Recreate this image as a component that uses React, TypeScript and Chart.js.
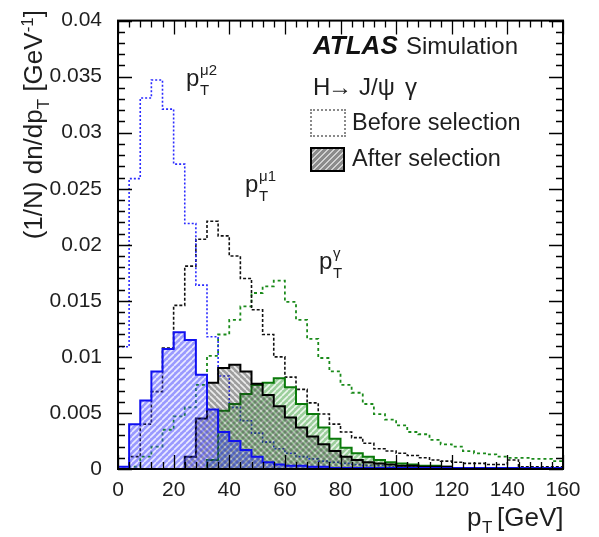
import React, { useEffect, useRef } from 'react';
import { Chart, registerables } from 'chart.js';
Chart.register(...registerables);

// Bin edges (GeV), 40 bins of 4 GeV
const binEdges = [0, 4, 8, 12, 16, 20, 24, 28, 32, 36, 40, 44, 48, 52, 56, 60, 64, 68, 72, 76, 80,
  84, 88, 92, 96, 100, 104, 108, 112, 116, 120, 124, 128, 132, 136, 140, 144, 148, 152, 156, 160];

// pT(mu2) before / after selection
const mu2Before = [0.0109, 0.0259, 0.0331, 0.0347, 0.0321, 0.0272, 0.0219, 0.0164, 0.0118, 0.0083,
  0.0055, 0.0043, 0.0032, 0.0024, 0.0018, 0.0014, 0.0011, 0.0009, 0.0007, 0.0006,
  0.0005, 0.0004, 0.0003, 0.0003, 0.0002, 0.0002, 0.0002, 0.0001, 0.0001, 0.0001,
  0.0001, 0.0001, 0.0001, 0.0001, 0.0001, 0.0001, 0.0001, 0.0001, 0.0001, 0.0001];
const mu2After = [0.0002, 0.0040, 0.0061, 0.0087, 0.0107, 0.0122, 0.0115, 0.0084, 0.0053, 0.0033,
  0.0025, 0.0017, 0.0011, 0.0006, 0.0004, 0.0003, 0.0003, 0.0002, 0.0002, 0.0001,
  0.0001, 0.0001, 0.0001, 0.0001, 0.0001, 0.0001, 0.0001, 0.0001, 0.0001, 0.0001,
  0.0001, 0.0001, 0.0001, 0.0001, 0.0001, 0.0001, 0.0001, 0.0001, 0.0001, 0.0001];

// pT(mu1) before / after selection
const mu1Before = [0, 0.0011, 0.0040, 0.0069, 0.0108, 0.0146, 0.0181, 0.0205, 0.0221, 0.0208,
  0.0190, 0.0170, 0.0142, 0.0120, 0.0100, 0.0082, 0.0071, 0.0059, 0.0049, 0.0040,
  0.0033, 0.0028, 0.0023, 0.0018, 0.0016, 0.0014, 0.0012, 0.0010, 0.0008, 0.0007,
  0.0006, 0.0005, 0.0005, 0.0004, 0.0004, 0.0008, 0.0002, 0.0002, 0.0002, 0.0002];
const mu1After = [0, 0, 0, 0, 0, 0, 0.0011, 0.0045, 0.0077, 0.0090,
  0.0093, 0.0087, 0.0076, 0.0066, 0.0056, 0.0046, 0.0037, 0.0029, 0.0022, 0.0016,
  0.0011, 0.0008, 0.0006, 0.0005, 0.0004, 0.0003, 0.0003, 0.0002, 0.0002, 0.0002,
  0.0001, 0.0001, 0.0001, 0.0001, 0.0001, 0.0001, 0.0001, 0.0001, 0.0001, 0.0001];

// pT(gamma) before / after selection
const gamBefore = [0, 0.0002, 0.0011, 0.0020, 0.0035, 0.0047, 0.0055, 0.0075, 0.0101, 0.0120,
  0.0133, 0.0145, 0.0157, 0.0163, 0.0168, 0.0149, 0.0133, 0.0116, 0.0099, 0.0087,
  0.0075, 0.0068, 0.0058, 0.0049, 0.0044, 0.0039, 0.0033, 0.0031, 0.0026, 0.0022,
  0.0020, 0.0016, 0.0014, 0.0013, 0.0011, 0.0010, 0.0010, 0.0009, 0.0009, 0.0007];
const gamAfter = [0, 0, 0, 0, 0, 0, 0, 0, 0.0008, 0.0052,
  0.0058, 0.0067, 0.0075, 0.0077, 0.0081, 0.0073, 0.0058, 0.0049, 0.0037, 0.0027,
  0.0019, 0.0014, 0.0011, 0.0008, 0.0006, 0.0005, 0.0004, 0.0003, 0.0003, 0.0002,
  0.0001, 0.0001, 0.0001, 0.0001, 0.0001, 0.0001, 0.0001, 0.0001, 0.0001, 0.0001];

const xTickLabels = [0, 20, 40, 60, 80, 100, 120, 140, 160];
const yTickLabels = ['0', '0.005', '0.01', '0.015', '0.02', '0.025', '0.03', '0.035', '0.04'];

const FONT = '"Liberation Sans", Arial, Helvetica, sans-serif';
const TXT = '#1e1e1e';

function stepPoints(vals: number[]) {
  return binEdges.map((e, i) => ({ x: e, y: vals[Math.min(i, vals.length - 1)] }));
}

function makeHatch(ctx: CanvasRenderingContext2D, color: string, dir: number, size = 6) {
  const c = document.createElement('canvas');
  c.width = size;
  c.height = size;
  const g = c.getContext('2d') as CanvasRenderingContext2D;
  g.fillStyle = color;
  g.fillRect(0, 0, size, size);
  g.globalCompositeOperation = 'destination-out';
  g.strokeStyle = 'rgba(0,0,0,0.8)';
  g.lineWidth = 1.6;
  g.beginPath();
  for (const o of [-size, 0, size]) {
    if (dir > 0) { g.moveTo(o, size); g.lineTo(o + size, 0); }
    else { g.moveTo(o, 0); g.lineTo(o + size, size); }
  }
  g.stroke();
  return ctx.createPattern(c, 'repeat') as CanvasPattern;
}

const frameTicks = {
  id: 'frameTicks',
  afterDatasetsDraw(chart: any) {
    const { ctx, chartArea } = chart;
    const { left, right, top, bottom } = chartArea;
    const xs = chart.scales.x;
    const ys = chart.scales.y;
    ctx.save();
    ctx.strokeStyle = '#000';
    ctx.lineWidth = 1.3;
    ctx.beginPath();
    for (let v = 0; v <= 160; v += 4) {
      const px = Math.round(xs.getPixelForValue(v)) + 0.5;
      const len = v % 20 === 0 ? 14 : 7;
      ctx.moveTo(px, bottom); ctx.lineTo(px, bottom - len);
      ctx.moveTo(px, top); ctx.lineTo(px, top + len);
    }
    for (let k = 0; k <= 40; k++) {
      const py = Math.round(ys.getPixelForValue(k * 0.001)) + 0.5;
      const len = k % 5 === 0 ? 14 : 7;
      ctx.moveTo(left, py); ctx.lineTo(left + len, py);
      ctx.moveTo(right, py); ctx.lineTo(right - len, py);
    }
    ctx.stroke();
    ctx.lineWidth = 2;
    ctx.strokeRect(left, top, right - left, bottom - top);
    ctx.restore();
  },
};

function T({ x, base, size, children, style }: any) {
  return (
    <div style={{
      position: 'absolute', left: x, top: base - 0.8465 * size, fontSize: size,
      lineHeight: `${size}px`, whiteSpace: 'nowrap', fontFamily: FONT, color: TXT, ...style,
    }}>{children}</div>
  );
}

function PLabel({ x, base, sup }: { x: number; base: number; sup: string }) {
  return (
    <>
      <T x={x} base={base} size={24}>p</T>
      <T x={x + 14} base={base - 11} size={15}>{sup}</T>
      <T x={x + 14} base={base + 9} size={15}>T</T>
    </>
  );
}

export default function App() {
  const ref = useRef<HTMLCanvasElement>(null);
  useEffect(() => {
    const canvas = ref.current as HTMLCanvasElement;
    const ctx = canvas.getContext('2d') as CanvasRenderingContext2D;
    const blueHatch = makeHatch(ctx, 'rgba(60,60,255,0.52)', 1);
    const grayHatch = makeHatch(ctx, 'rgba(40,40,40,0.45)', -1);
    const greenHatch = makeHatch(ctx, 'rgba(20,140,20,0.42)', 1);
    const base = { stepped: true, pointRadius: 0, tension: 0 };
    const chart = new Chart(canvas, {
      type: 'line',
      data: {
        datasets: [
          { ...base, label: 'mu2 after', data: stepPoints(mu2After), borderColor: '#1010f0', borderWidth: 2, fill: 'origin', backgroundColor: blueHatch },
          { ...base, label: 'mu1 after', data: stepPoints(mu1After), borderColor: '#000000', borderWidth: 2, fill: 'origin', backgroundColor: grayHatch },
          { ...base, label: 'gamma after', data: stepPoints(gamAfter), borderColor: '#0a7a0a', borderWidth: 2, fill: 'origin', backgroundColor: greenHatch },
          { ...base, label: 'mu2 before', data: stepPoints(mu2Before), borderColor: '#2a2aff', borderWidth: 1.6, borderDash: [2, 2], fill: false },
          { ...base, label: 'mu1 before', data: stepPoints(mu1Before), borderColor: '#111111', borderWidth: 1.6, borderDash: [3, 2], fill: false },
          { ...base, label: 'gamma before', data: stepPoints(gamBefore), borderColor: '#1a8a1a', borderWidth: 1.8, borderDash: [3, 3], fill: false },
        ] as any,
      },
      options: {
        animation: false,
        responsive: false,
        devicePixelRatio: 1,
        layout: { padding: { top: 12, right: 36, left: 0, bottom: 0 } },
        plugins: { legend: { display: false }, tooltip: { enabled: false } },
        scales: {
          x: {
            type: 'linear', min: 0, max: 160,
            grid: { display: false }, border: { display: false },
            afterBuildTicks: (s: any) => { s.ticks = xTickLabels.map((v) => ({ value: v })); },
            ticks: { autoSkip: false, maxRotation: 0, padding: 1, color: TXT, font: { family: FONT, size: 21 },
              callback: (v: any) => String(v) },
            afterFit: (s: any) => { s.height = 68; },
          },
          y: {
            type: 'linear', min: 0, max: 0.04,
            grid: { display: false }, border: { display: false },
            afterBuildTicks: (s: any) => { s.ticks = yTickLabels.map((t) => ({ value: parseFloat(t) })); },
            ticks: { padding: 8, color: TXT, font: { family: FONT, size: 21 },
              callback: (v: any) => { const i = yTickLabels.findIndex((t) => Math.abs(parseFloat(t) - v) < 1e-9); return i >= 0 ? yTickLabels[i] : ''; } },
            afterFit: (s: any) => { s.width = 118; },
          },
        },
      } as any,
      plugins: [frameTicks],
    });
    return () => chart.destroy();
  }, []);

  return (
    <div style={{ position: 'absolute', left: 0, top: 0, width: 599, height: 537, background: '#fff', overflow: 'hidden' }}>
      <canvas ref={ref} width={599} height={537} style={{ position: 'absolute', left: 0, top: 0 }} />
      <div style={{ position: 'absolute', left: 0, top: 0, width: 599, height: 537, pointerEvents: 'none' }}>
        {/* Y axis title */}
        <div style={{
          position: 'absolute', left: 20, top: 10 + 400, width: 400, height: 26,
          transform: 'rotate(-90deg)', transformOrigin: '0 0', textAlign: 'right',
          fontFamily: FONT, fontSize: 26, lineHeight: '26px', color: TXT, whiteSpace: 'nowrap',
        }}>
          (1/N) dn/dp<span style={{ fontSize: 17, position: 'relative', top: 7 }}>T</span> [GeV<span style={{ fontSize: 17, position: 'relative', top: -9 }}>-1</span>]
        </div>
        {/* X axis title */}
        <T x={467} base={526} size={26}>p</T>
        <T x={482} base={533} size={17}>T</T>
        <T x={497} base={526} size={26}>[GeV]</T>

        {/* ATLAS label */}
        <T x={313} base={54} size={26} style={{ fontWeight: 'bold', fontStyle: 'italic', color: '#111' }}>ATLAS</T>
        <T x={406} base={54} size={24}>Simulation</T>
        <T x={313} base={95} size={24}>H</T>
        <T x={328} base={95} size={24}>→</T>
        <T x={359} base={95} size={24}>J/ψ</T>
        <T x={405} base={95} size={24}>γ</T>

        {/* Legend */}
        <div style={{ position: 'absolute', left: 310, top: 109, width: 36, height: 28, boxSizing: 'border-box', border: '2px dotted #8a8a8a' }} />
        <T x={352} base={131} size={23.5}>Before selection</T>
        <div style={{
          position: 'absolute', left: 310, top: 147, width: 35, height: 25, boxSizing: 'border-box', border: '2px solid #000',
          background: 'repeating-linear-gradient(135deg, #8c8c8c 0px, #8c8c8c 2.5px, #d2d2d2 2.5px, #d2d2d2 4.2px)',
        }} />
        <T x={352} base={167} size={23.5}>After selection</T>

        {/* Distribution labels */}
        <PLabel x={186} base={86} sup="μ2" />
        <PLabel x={245} base={192} sup="μ1" />
        <PLabel x={319} base={269} sup="γ" />
      </div>
    </div>
  );
}
